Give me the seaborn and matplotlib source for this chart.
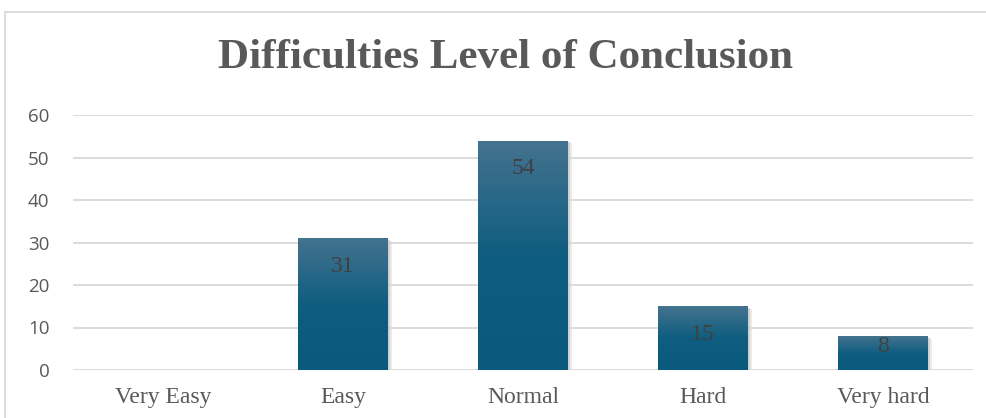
import numpy as np
import pandas as pd
import matplotlib
matplotlib.use("Agg")
import matplotlib.pyplot as plt
import seaborn as sns
from matplotlib.colors import LinearSegmentedColormap
from matplotlib.patches import Rectangle

categories = ["Very Easy", "Easy", "Normal", "Hard", "Very hard"]
values = [0, 31, 54, 15, 8]
yticks = [0, 10, 20, 30, 40, 50, 60]
title = "Difficulties Level of Conclusion"

sns.set_theme(style="white")
plt.rcParams['font.family'] = ['Liberation Serif', 'DejaVu Sans']

df = pd.DataFrame({"cat": categories, "val": values})
fig = plt.figure(figsize=(9.87, 4.18), dpi=100)
ax = fig.add_axes([73/987, 1 - 370/418, 900/987, 255/418])

sns.barplot(data=df, x="cat", y="val", ax=ax, color="#1a6283", width=0.5, zorder=3)

ax.set_ylim(0, 60)
ax.set_xlim(-0.5, 4.5)
ax.set_yticks(yticks)
ax.set_yticklabels([str(t) for t in yticks], fontfamily="Open Sans", fontsize=13.5, color="#595959")
ax.set_xticklabels(categories, fontsize=17, color="#595959")
ax.tick_params(axis="both", length=0)
ax.tick_params(axis="x", pad=12)
ax.tick_params(axis="y", pad=17)
ax.grid(axis="y", color="#d9d9d9", linewidth=1.3, zorder=0)
ax.set_xlabel("")
ax.set_ylabel("")
for s in ax.spines.values():
    s.set_visible(False)

cmap = LinearSegmentedColormap.from_list("g", ["#0a5a7e", "#0f5d80", "#44738f"])
grad = np.linspace(0, 1, 256).reshape(-1, 1)
for p, v in zip(ax.patches, values):
    if v <= 0:
        p.set_visible(False)
        continue
    x0, w, h = p.get_x(), p.get_width(), p.get_height()
    p.set_facecolor("none")
    p.set_edgecolor("none")
    # soft shadow
    ax.add_patch(Rectangle((x0 + 0.010, -0.4), w, h, facecolor="#c8c8c8", edgecolor="none", zorder=2, alpha=0.7))
    ax.add_patch(Rectangle((x0 + 0.020, -0.7), w, h, facecolor="#dcdcdc", edgecolor="none", zorder=1.9, alpha=0.6))
    im = ax.imshow(grad, extent=[x0, x0 + w, 0, h], origin="lower", aspect="auto", cmap=cmap, zorder=3)
    im.set_clip_path(Rectangle((x0, 0), w, h, transform=ax.transData))
    off = 6.6 if h > 12 else 0.3 * h
    ax.text(x0 + w / 2, h - off, str(v), ha="center", va="center", fontsize=17, color="#404040", zorder=5)

ax.set_xlim(-0.5, 4.5)
ax.set_ylim(0, 60)

fig.text(506/987, 1 - 58/418, title, ha="center", va="center", fontsize=31, fontweight="bold", color="#595959")

# chart frame
fig.add_artist(Rectangle((5/987, -0.05), 1.2, 1 - 12/418 + 0.05, transform=fig.transFigure, facecolor="none", edgecolor="#d9d9d9", linewidth=1.3))

fig.savefig("out.png", dpi=100)
